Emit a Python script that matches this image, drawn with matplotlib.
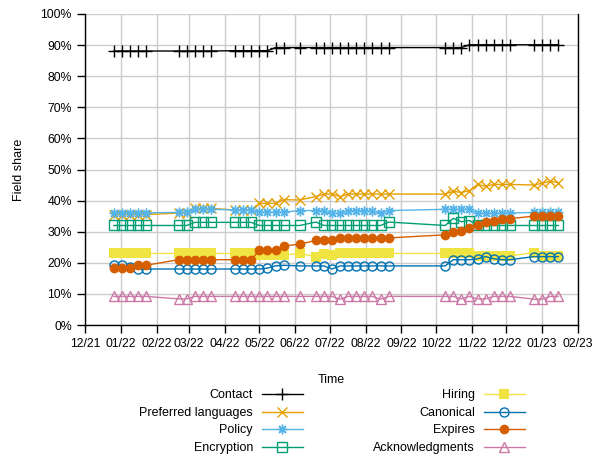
import matplotlib
matplotlib.use("Agg")
import matplotlib.pyplot as plt
import matplotlib.dates as mdates
import numpy as np

plt.rcParams["font.family"] = ["Liberation Sans", "DejaVu Sans"]
plt.rcParams["font.size"] = 9

dates = ["2021-12-26", "2022-01-02", "2022-01-09", "2022-01-16", "2022-01-23",
         "2022-02-20", "2022-02-27", "2022-03-06", "2022-03-13", "2022-03-20",
         "2022-04-10", "2022-04-17", "2022-04-24", "2022-05-01", "2022-05-08", "2022-05-15", "2022-05-22",
         "2022-06-05",
         "2022-06-19", "2022-06-26", "2022-07-03", "2022-07-10", "2022-07-17", "2022-07-24", "2022-07-31",
         "2022-08-07", "2022-08-14", "2022-08-21",
         "2022-10-09", "2022-10-16", "2022-10-23", "2022-10-30", "2022-11-06", "2022-11-13", "2022-11-20",
         "2022-11-27", "2022-12-04",
         "2022-12-25", "2023-01-01", "2023-01-08", "2023-01-15"]

contact = [88.1, 88.1, 88.1, 88.1, 88.1,
           88.1, 88.1, 88.1, 88.1, 88.1,
           88.2, 88.2, 88.2, 88.2, 88.2, 89.2, 89.2,
           89.2,
           89.2, 89.2, 89.2, 89.2, 89.2, 89.2, 89.2, 89.2, 89.2, 89.2,
           89.2, 89.2, 89.2, 90.1, 90.1, 90.1, 90.1, 90.1, 90.1,
           90.1, 90.1, 90.1, 90.1]
preferred = [35.5, 35.5, 35.5, 35.5, 35.5,
             36.0, 36.0, 37.5, 37.5, 37.5,
             37.0, 37.0, 37.0, 39.1, 39.1, 39.1, 40.3,
             40.2,
             41.3, 42.1, 42.1, 41.3, 42.1, 42.1, 42.1, 42.1, 42.1, 42.1,
             42.1, 43.0, 42.6, 43.2, 45.2, 44.6, 45.2, 45.2, 45.2,
             45.0, 45.6, 46.2, 45.8]
policy = [36.1, 36.1, 36.1, 36.1, 36.1,
          36.2, 36.2, 37.2, 37.2, 37.2,
          37.0, 37.0, 37.0, 36.3, 36.3, 36.3, 36.3,
          36.8,
          36.8, 36.8, 35.9, 35.9, 36.8, 36.8, 36.8, 36.8, 35.9, 36.8,
          37.2, 37.2, 37.2, 37.2, 36.0, 36.0, 36.0, 36.0, 36.0,
          36.2, 36.2, 36.2, 36.2]
encryption = [32.0, 32.0, 32.0, 32.0, 32.0,
              32.0, 32.0, 33.0, 33.0, 33.0,
              33.0, 33.0, 33.0, 32.0, 32.0, 32.0, 32.0,
              32.0,
              33.1, 32.0, 32.0, 32.0, 32.0, 32.0, 32.0, 32.0, 32.0, 33.1,
              32.0, 34.3, 33.2, 33.6, 32.0, 32.0, 32.0, 32.0, 32.0,
              32.0, 32.0, 32.0, 32.0]
hiring = [23.0, 23.0, 23.0, 23.0, 23.0,
          23.0, 23.0, 23.0, 23.0, 23.0,
          23.0, 23.0, 23.0, 22.5, 22.5, 22.5, 22.5,
          23.0,
          22.0, 22.8, 22.6, 23.0, 23.0, 23.0, 23.0, 23.0, 23.0, 23.0,
          23.0, 23.0, 23.0, 23.0, 22.2, 22.2, 22.2, 22.2, 22.2,
          23.3, 22.3, 22.3, 22.3]
canonical = [19.2, 19.2, 18.5, 18.0, 18.0,
             18.0, 18.0, 18.0, 18.0, 18.0,
             18.0, 18.0, 18.0, 18.0, 18.3, 19.0, 19.2,
             19.0,
             19.0, 19.0, 18.0, 19.0, 19.0, 19.0, 19.0, 19.0, 19.0, 19.0,
             19.0, 21.0, 21.0, 21.0, 21.3, 22.0, 21.3, 21.0, 21.0,
             22.0, 22.0, 22.0, 22.0]
expires = [18.2, 18.2, 18.2, 19.2, 19.2,
           21.0, 21.0, 21.0, 21.0, 21.0,
           21.0, 21.0, 21.0, 24.0, 24.0, 24.2, 25.4,
           26.0,
           27.2, 27.2, 27.2, 28.0, 28.0, 28.0, 28.0, 28.0, 28.0, 28.0,
           29.0, 30.0, 30.3, 31.3, 32.3, 33.0, 33.4, 34.0, 34.2,
           35.0, 35.0, 35.0, 35.0]
acknowledgments = [9.2, 9.2, 9.2, 9.2, 9.2,
                   8.4, 8.4, 9.2, 9.2, 9.2,
                   9.2, 9.2, 9.2, 9.2, 9.2, 9.2, 9.2,
                   9.2,
                   9.2, 9.2, 9.2, 8.3, 9.2, 9.2, 9.2, 9.2, 8.3, 9.2,
                   9.2, 9.2, 8.4, 9.2, 8.4, 8.4, 9.2, 9.2, 9.2,
                   8.3, 8.3, 9.2, 9.2]

x = np.array(dates, dtype="datetime64[D]")

fig = plt.figure(figsize=(5.92, 4.58), dpi=100)
ax = fig.add_axes([85 / 592, 1 - 325 / 458, 493 / 592, 311 / 458])

ms = 7
ax.plot(x, contact, color="#000000", lw=1, marker="+", ms=ms + 1.5, mew=1, label="Contact")
ax.plot(x, preferred, color="#E69F00", lw=1, marker="x", ms=ms, mew=1, label="Preferred languages")
ax.plot(x, policy, color="#56B4E9", lw=1, marker=(8, 2, 0), ms=ms, mew=1, label="Policy")
ax.plot(x, encryption, color="#009E73", lw=1, marker="s", mfc="none", ms=ms - 0.5, mew=1, label="Encryption")
ax.plot(x, hiring, color="#F0E442", lw=1, marker="s", ms=ms, mew=0, label="Hiring")
ax.plot(x, canonical, color="#0072B2", lw=1, marker="o", mfc="none", ms=ms - 0.5, mew=1, label="Canonical")
ax.plot(x, expires, color="#D55E00", lw=1, marker="o", ms=ms, mew=0, label="Expires")
ax.plot(x, acknowledgments, color="#CC79A7", lw=1, marker="^", mfc="none", ms=ms + 0.5, mew=1,
        label="Acknowledgments")

ax.set_xlim(np.datetime64("2021-12-01"), np.datetime64("2023-02-01"))
ax.set_ylim(0, 100)
ax.set_yticks(np.arange(0, 101, 10))
ax.set_yticklabels([f"{v}%" for v in range(0, 101, 10)])
ax.xaxis.set_major_locator(mdates.MonthLocator())
ax.xaxis.set_major_formatter(mdates.DateFormatter("%m/%y"))
ax.tick_params(direction="out", length=6, width=1, color="#000000", labelsize=8.8)

ax.grid(True, color="#cccccc", lw=1)
ax.set_axisbelow(True)
ax.spines["top"].set_visible(False)
for s in ("left", "bottom", "right"):
    ax.spines[s].set_linewidth(1)

ax.set_xlabel("Time", labelpad=17)
ax.set_ylabel("Field share", labelpad=11)

fig.legend(loc="upper left", bbox_to_anchor=(133 / 592, 1 - 383 / 458), ncol=2, frameon=False,
           markerfirst=False, handlelength=3.3, handletextpad=0.7, columnspacing=5.6,
           labelspacing=0.45, borderpad=0, fontsize=9)

fig.savefig("out.png", dpi=100)
